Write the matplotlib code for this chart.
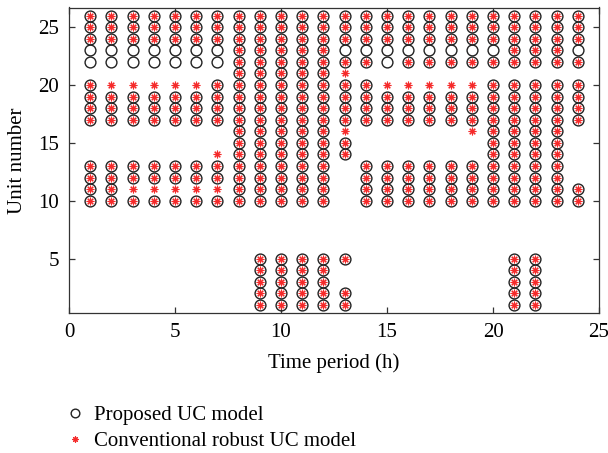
import numpy as np
import matplotlib.pyplot as plt

plt.rcParams['font.family'] = ['Liberation Serif', 'DejaVu Serif']
plt.rcParams['font.size'] = 15

# commitment status per unit (rows, unit 26 down to 1) and hour (columns, 1..24)
# B = on in both models, O = on in proposed model only,
# X = on in conventional robust model only, . = off in both
hours = list(range(1, 25))
units = list(range(26, 0, -1))
schedule = [
    "BBBBBBBBBBBBBBBBBBBBBBBB",  # 26
    "BBBBBBBBBBBBBBBBBBBBBBBB",  # 25
    "BBBBBBBBBBBBBBBBBBBBBBBB",  # 24
    "OOOOOOOBBBBBOOOOOOOOBBBO",  # 23
    "OOOOOOOBBBBBBBOBBBBBBBBB",  # 22
    ".......BBBBBX...........",  # 21
    "BXXXXXBBBBBBBBXXXXXBBBBB",  # 20
    "BBBBBBBBBBBBBBBBBBBBBBBB",  # 19
    "BBBBBBBBBBBBBBBBBBBBBBBB",  # 18
    "BBBBBBBBBBBBBBBBBBBBBBBB",  # 17
    ".......BBBBBX.....XBBBB.",  # 16
    ".......BBBBBB......BBBB.",  # 15
    "......XBBBBBB......BBBB.",  # 14
    "BBBBBBBBBBBB.BBBBBBBBBB.",  # 13
    "BBBBBBBBBBBB.BBBBBBBBBB.",  # 12
    "BBXXXXXBBBBB.BBBBBBBBBBB",  # 11
    "BBBBBBBBBBBB.BBBBBBBBBBB",  # 10
    "........................",  # 9
    "........................",  # 8
    "........................",  # 7
    "........................",  # 6
    "........BBBBB.......BB..",  # 5
    "........BBBB........BB..",  # 4
    "........BBBB........BB..",  # 3
    "........BBBBB.......BB..",  # 2
    "........BBBBB.......BB..",  # 1
]

prop_t, prop_u, conv_t, conv_u = [], [], [], []
for u, row in zip(units, schedule):
    for h, s in zip(hours, row):
        if s in 'BO':
            prop_t.append(h)
            prop_u.append(u)
        if s in 'BX':
            conv_t.append(h)
            conv_u.append(u)

fig = plt.figure(figsize=(6.08, 4.53), dpi=100)
ax = fig.add_axes([69/608, 1 - 313/453, 530/608, 305.5/453])

ax.plot(prop_t, prop_u, 'o', ms=7.8, mfc='none', mec='#222222', mew=1.0,
        label='Proposed UC model')
ax.plot(conv_t, conv_u, ls='none', marker=(8, 2, 0), ms=5.5, mec='#f52a2a',
        mew=0.8, label='Conventional robust UC model')

ax.set_xlim(0, 25)
ax.set_ylim(0.3, 26.7)
ax.set_xticks([0, 5, 10, 15, 20, 25])
ax.set_yticks([5, 10, 15, 20, 25])
ax.tick_params(direction='in', top=True, right=True, length=4, width=0.9,
               color='#333333', pad=7)
for sp in ax.spines.values():
    sp.set_linewidth(0.9)
    sp.set_color('#333333')

ax.set_xlabel('Time period (h)', labelpad=8)
ax.set_ylabel('Unit number', labelpad=8)

fig.legend(loc='upper left', bbox_to_anchor=(48/608, 1 - 387/453),
           frameon=False, handlelength=0.8, handletextpad=0.5,
           labelspacing=0.3, markerscale=0.8)

fig.savefig('out.png', dpi=100)
